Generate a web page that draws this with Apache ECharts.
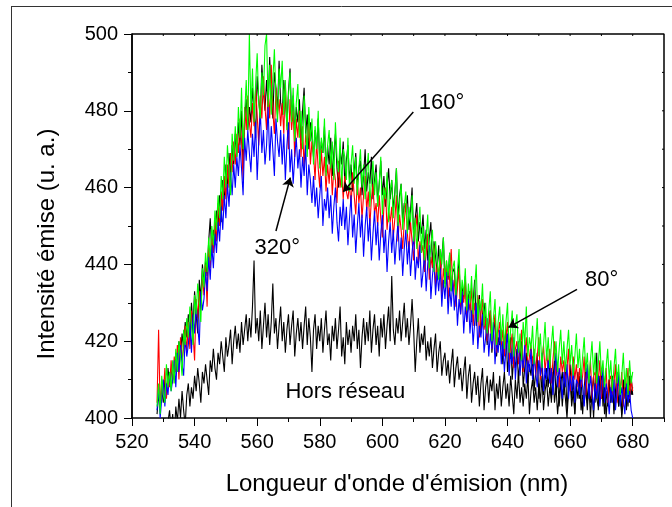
<!DOCTYPE html>
<html>
<head>
<meta charset="utf-8">
<script src="https://cdn.jsdelivr.net/npm/echarts@6/dist/echarts.min.js"></script>
<style>
  html, body { margin: 0; padding: 0; background: #fff; }
  #main { width: 672px; height: 507px; }
</style>
</head>
<body>
<div id="main"></div>
<script type="text/javascript">
    // longueurs d'onde (nm) : pas de 0.5 nm
    var stepNm = 0.5;
    var startColored = 528;   // courbes 80°, 160°, 320°, noire
    var startHors = 530;      // hors réseau

    // intensité (u. a.), 528 -> 680 nm, une ligne = 5 nm
    var green80 = [
        403, 409, 401, 411, 406, 404, 414, 408, 412, 407,
        415, 409, 418, 412, 420, 416, 411, 423, 419, 426,
        421, 429, 424, 419, 432, 427, 435, 430, 425, 439,
        434, 443, 438, 447, 441, 450, 445, 454, 449, 458,
        452, 463, 457, 468, 460, 471, 464, 458, 474, 467,
        476, 468, 481, 473, 486, 470, 479, 488, 475, 500,
        480, 491, 477, 487, 495, 482, 478, 490, 484, 497,
        500, 481, 492, 479, 488, 496, 483, 477, 491, 486,
        493, 479, 488, 475, 484, 490, 477, 486, 472, 482,
        487, 473, 480, 470, 484, 476, 468, 481, 472, 478,
        466, 476, 470, 480, 465, 473, 469, 478, 463, 471,
        475, 465, 472, 462, 477, 468, 464, 473, 460, 470,
        468, 462, 473, 459, 466, 471, 461, 468, 458, 465,
        470, 460, 466, 457, 464, 469, 455, 462, 467, 458,
        464, 455, 461, 468, 453, 460, 457, 464, 451, 459,
        462, 452, 458, 465, 450, 456, 461, 449, 455, 459,
        448, 455, 451, 458, 446, 452, 444, 450, 455, 443,
        450, 441, 447, 453, 439, 445, 449, 438, 446, 441,
        436, 444, 440, 447, 434, 441, 437, 443, 433, 439,
        441, 432, 438, 444, 430, 436, 432, 439, 428, 435,
        430, 437, 427, 434, 440, 425, 431, 428, 435, 424,
        430, 422, 428, 433, 420, 426, 431, 419, 425, 429,
        420, 427, 418, 425, 430, 417, 423, 428, 416, 424,
        427, 417, 422, 415, 425, 419, 429, 416, 421, 418,
        424, 414, 420, 426, 416, 422, 413, 419, 425, 415,
        421, 413, 419, 424, 415, 420, 412, 418, 423, 414,
        420, 412, 418, 423, 414, 419, 411, 416, 422, 413,
        418, 410, 416, 421, 412, 417, 409, 415, 420, 411,
        417, 409, 414, 420, 411, 415, 408, 413, 418, 410,
        415, 407, 413, 418, 409, 414, 406, 411, 417, 408,
        413, 406, 415, 409, 412
    ];
    var red160 = [
        404, 423, 402, 410, 406, 413, 405, 411, 408, 415,
        409, 416, 412, 419, 410, 421, 415, 418, 424, 417,
        425, 418, 428, 422, 415, 431, 426, 433, 428, 437,
        432, 440, 429, 445, 439, 448, 443, 451, 446, 456,
        450, 459, 454, 463, 457, 466, 460, 469, 464, 472,
        466, 474, 469, 478, 472, 462, 481, 475, 484, 477,
        473, 482, 476, 486, 479, 471, 484, 478, 489, 481,
        475, 485, 478, 492, 480, 474, 486, 479, 483, 476,
        482, 474, 487, 477, 470, 483, 475, 480, 468, 478,
        473, 480, 468, 476, 465, 474, 470, 478, 466, 472,
        469, 462, 472, 465, 460, 470, 463, 468, 459, 466,
        461, 468, 458, 465, 462, 456, 467, 460, 464, 457,
        463, 459, 457, 461, 455, 464, 458, 453, 462, 456,
        460, 452, 458, 463, 454, 459, 450, 457, 461, 453,
        456, 450, 458, 452, 447, 455, 460, 449, 454, 451,
        455, 447, 452, 458, 446, 453, 449, 444, 451, 456,
        448, 443, 451, 446, 441, 449, 453, 440, 446, 443,
        445, 438, 443, 448, 436, 442, 439, 445, 434, 440,
        437, 443, 432, 439, 435, 441, 430, 437, 444, 433,
        436, 429, 434, 439, 427, 433, 430, 436, 425, 431,
        428, 434, 424, 430, 426, 432, 421, 427, 431, 423,
        426, 420, 424, 428, 418, 423, 427, 417, 422, 425,
        419, 423, 416, 421, 425, 414, 419, 422, 413, 418,
        420, 414, 418, 423, 412, 417, 421, 413, 416, 419,
        414, 418, 411, 416, 421, 410, 415, 419, 412, 417,
        413, 418, 409, 415, 420, 411, 414, 408, 416, 412,
        415, 409, 413, 418, 407, 412, 416, 410, 414, 408,
        413, 408, 411, 416, 406, 412, 409, 415, 405, 411,
        412, 407, 410, 415, 405, 411, 408, 413, 404, 410,
        411, 406, 409, 414, 404, 410, 407, 412, 403, 409,
        408, 413, 405, 410, 407
    ];
    var blue320 = [
        402, 408, 400, 405, 410, 403, 409, 406, 412, 407,
        410, 415, 408, 417, 412, 419, 414, 411, 421, 416,
        419, 425, 417, 427, 422, 430, 424, 419, 433, 428,
        431, 438, 433, 442, 436, 445, 439, 448, 443, 451,
        446, 455, 449, 458, 452, 461, 455, 464, 458, 466,
        460, 468, 463, 471, 465, 458, 473, 467, 475, 469,
        464, 474, 468, 477, 462, 472, 480, 469, 475, 466,
        471, 481, 467, 476, 470, 463, 478, 472, 468, 475,
        466, 474, 462, 471, 477, 464, 470, 461, 468, 473,
        465, 470, 460, 468, 463, 471, 458, 466, 462, 456,
        463, 455, 460, 452, 458, 463, 450, 457, 454, 460,
        452, 458, 448, 455, 460, 451, 446, 455, 450, 457,
        449, 455, 445, 452, 458, 447, 453, 443, 450, 456,
        447, 453, 442, 450, 455, 446, 452, 441, 448, 454,
        445, 451, 441, 448, 453, 443, 449, 438, 446, 451,
        443, 449, 440, 446, 451, 441, 447, 437, 444, 449,
        440, 446, 437, 443, 448, 436, 442, 439, 445, 434,
        438, 443, 433, 440, 445, 431, 437, 441, 432, 438,
        433, 439, 429, 436, 431, 438, 427, 434, 429, 436,
        428, 434, 424, 431, 427, 433, 422, 429, 425, 431,
        422, 428, 419, 425, 430, 418, 424, 421, 427, 417,
        421, 426, 416, 422, 418, 425, 414, 420, 417, 423,
        414, 420, 412, 418, 422, 411, 417, 414, 421, 410,
        416, 420, 411, 417, 413, 419, 409, 415, 412, 418,
        410, 416, 412, 408, 415, 411, 417, 407, 413, 410,
        415, 409, 413, 406, 412, 417, 408, 413, 410, 405,
        412, 408, 414, 405, 411, 407, 413, 404, 410, 409,
        406, 412, 408, 403, 410, 414, 405, 411, 407, 402,
        409, 405, 411, 403, 408, 413, 404, 409, 406, 401,
        408, 404, 410, 402, 407, 412, 403, 408, 405, 401,
        409, 404, 407, 402, 400
    ];
    var black0 = [
        401, 406, 403, 408, 404, 410, 406, 413, 409, 411,
        414, 410, 417, 413, 420, 416, 422, 418, 425, 421,
        427, 420, 430, 424, 433, 427, 422, 436, 431, 440,
        435, 441, 437, 446, 452, 443, 449, 445, 454, 450,
        458, 451, 462, 456, 466, 459, 469, 463, 471, 466,
        474, 468, 477, 471, 480, 465, 478, 483, 475, 481,
        477, 486, 480, 473, 489, 483, 478, 492, 485, 480,
        488, 481, 494, 484, 478, 490, 486, 480, 493, 482,
        479, 488, 483, 476, 485, 491, 478, 484, 474, 481,
        477, 483, 472, 480, 486, 474, 479, 470, 477, 473,
        468, 475, 470, 478, 466, 472, 469, 476, 464, 471,
        466, 473, 463, 469, 474, 465, 460, 470, 466, 472,
        461, 467, 471, 462, 466, 459, 464, 469, 460, 465,
        467, 458, 463, 470, 459, 464, 461, 468, 457, 462,
        466, 456, 461, 467, 458, 463, 455, 460, 465, 457,
        462, 454, 459, 465, 452, 458, 461, 451, 456, 454,
        458, 449, 454, 460, 447, 452, 456, 446, 451, 448,
        453, 444, 449, 441, 447, 451, 440, 446, 442, 438,
        445, 437, 442, 447, 435, 440, 436, 443, 433, 438,
        439, 431, 436, 441, 429, 434, 431, 437, 426, 432,
        433, 425, 430, 436, 424, 428, 432, 422, 427, 430,
        425, 419, 424, 428, 417, 422, 426, 416, 421, 419,
        422, 414, 419, 423, 412, 417, 421, 410, 416, 413,
        418, 410, 415, 420, 408, 413, 417, 409, 414, 411,
        416, 407, 412, 417, 405, 411, 414, 406, 410, 413,
        408, 414, 404, 410, 415, 406, 411, 403, 409, 412,
        406, 413, 402, 409, 414, 405, 410, 401, 408, 412,
        405, 411, 401, 408, 413, 404, 409, 400, 407, 411,
        404, 417, 402, 408, 412, 403, 409, 400, 406, 410,
        404, 411, 401, 407, 412, 403, 408, 400, 405, 410,
        402, 409, 404, 411, 406
    ];
    // hors réseau, 530 -> 680 nm
    var horsReseau = [
        396, 400, 394, 399, 402, 397, 401, 395, 403, 399,
        405, 400, 407, 402, 398, 406, 409, 403, 408, 405,
        411, 407, 413, 409, 404, 412, 409, 414, 410, 406,
        415, 412, 418, 413, 410, 417, 414, 420, 416, 412,
        421, 416, 419, 423, 414, 420, 424, 418, 422, 417,
        425, 419, 423, 427, 420, 426, 421, 429, 441, 422,
        426, 420, 428, 418, 424, 430, 421, 427, 419, 425,
        435, 422, 426, 418, 424, 429, 420, 425, 417, 423,
        427, 419, 424, 428, 416, 422, 426, 420, 425, 418,
        424, 429, 419, 426, 421, 412, 423, 427, 418, 424,
        420, 426, 417, 423, 428, 419, 422, 415, 424, 420,
        426, 418, 423, 429, 416, 421, 414, 425, 419, 423,
        417, 424, 420, 427, 418, 423, 413, 421, 426, 419,
        425, 420, 428, 417, 423, 427, 419, 424, 416, 426,
        421, 427, 418, 424, 429, 420, 437, 423, 419, 426,
        422, 428, 420, 425, 430, 421, 426, 419, 424, 431,
        423, 412, 420, 426, 417, 422, 419, 424, 415, 420,
        416, 421, 413, 418, 422, 412, 417, 420, 411, 415,
        417, 411, 415, 409, 414, 418, 408, 413, 416, 410,
        413, 407, 412, 416, 405, 411, 414, 404, 409, 412,
        406, 411, 403, 409, 413, 402, 408, 411, 404, 410,
        407, 412, 402, 409, 405, 411, 403, 408, 412, 405,
        409, 403, 411, 406, 401, 410, 405, 412, 404, 408,
        403, 409, 405, 411, 401, 407, 410, 404, 408, 402,
        409, 404, 411, 402, 407, 410, 403, 408, 405, 412,
        404, 408, 401, 406, 410, 403, 409, 405, 400, 407,
        410, 403, 407, 401, 409, 405, 411, 402, 406, 404,
        408, 402, 410, 404, 407, 400, 409, 405, 403, 411,
        405, 409, 401, 407, 403, 410, 404, 408, 402, 406,
        409, 403, 407, 401, 410, 405, 408, 403, 411, 406,
        408
    ];

    var xMajorTicks = [520, 540, 560, 580, 600, 620, 640, 660, 680];
    // cadre : coins du repère
    var frameX = [520, 520, 690, 690];
    var frameY = [400, 500, 500, 400];

    // annotations [x, y, texte]
    var labels = [
        [618.9, 482.0, '160°'],
        [566.4, 444.3, '320°'],
        [670.1, 435.9, '80°'],
        [588.2, 406.8, 'Hors réseau']
    ];
    // flèches [x0, y0, x1, y1]
    var arrows = [
        [609.9, 479.7, 587.5, 458.9],
        [566.0, 448.7, 570.6, 462.6],
        [662.2, 433.5, 640.3, 423.6]
    ];

    function pairs(start, vals) {
        return vals.map(function (v, i) { return [start + i * stepNm, v]; });
    }

    var font = 'Liberation Sans, Arial, sans-serif';
    var myChart = echarts.init(document.getElementById('main'));

    function lineSerie(name, start, vals, color) {
        return {
            name: name,
            type: 'line',
            data: pairs(start, vals),
            showSymbol: false,
            symbol: 'none',
            clip: true,
            lineStyle: { color: color, width: 1.1 },
            silent: true
        };
    }

    myChart.setOption({
        animation: false,
        backgroundColor: '#fff',
        grid: { left: 132, right: 8, top: 34, bottom: 89 },
        xAxis: [
            {
                type: 'value', min: 520, max: 690, interval: 10, position: 'bottom',
                axisLine: { onZero: false, lineStyle: { color: '#000', width: 1.5 } },
                axisTick: { length: 4, lineStyle: { color: '#000', width: 1 } },
                axisLabel: {
                    margin: 14, color: '#000', fontSize: 20, fontFamily: font,
                    formatter: function (v) { return (v % 20 === 0 && v <= 680) ? v : ''; }
                },
                splitLine: { show: false }
            },
            {
                type: 'value', min: 520, max: 690, interval: 20, position: 'bottom',
                axisLine: { show: false, onZero: false },
                axisTick: { length: 8, customValues: xMajorTicks, lineStyle: { color: '#000', width: 1 } },
                axisLabel: { show: false },
                splitLine: { show: false }
            }
        ],
        yAxis: [
            {
                type: 'value', min: 400, max: 500, interval: 10, position: 'left',
                axisLine: { show: true, onZero: false, lineStyle: { color: '#000', width: 1.5 } },
                axisTick: { show: true, length: 4, lineStyle: { color: '#000' } },
                axisLabel: {
                    margin: 14, color: '#000', fontSize: 20, fontFamily: font,
                    formatter: function (v) { return v % 20 === 0 ? v : ''; }
                },
                splitLine: { show: false }
            },
            {
                type: 'value', min: 400, max: 500, interval: 20, position: 'left',
                axisLine: { show: false, onZero: false },
                axisTick: { show: true, length: 8, lineStyle: { color: '#000' } },
                axisLabel: { show: false },
                splitLine: { show: false }
            }
        ],
        series: [
            lineSerie('Hors réseau', startHors, horsReseau, '#000000'),
            lineSerie('0°', startColored, black0, '#000000'),
            lineSerie('160°', startColored, red160, '#ff0000'),
            lineSerie('320°', startColored, blue320, '#0000ff'),
            lineSerie('80°', startColored, green80, '#00ff00'),
            {
                name: 'cadre',
                type: 'line',
                data: frameX.map(function (x, i) { return [x, frameY[i]]; }),
                showSymbol: false,
                symbol: 'none',
                clip: false,
                silent: true,
                z: 20,
                lineStyle: { color: '#000', width: 1.5 }
            },
            {
                type: 'line',
                data: [],
                silent: true,
                markLine: {
                    silent: true,
                    animation: false,
                    symbol: ['none', 'arrow'],
                    symbolSize: 9,
                    label: { show: false },
                    lineStyle: { color: '#000', width: 1.5, type: 'solid' },
                    data: arrows.map(function (a) {
                        return [{ coord: [a[0], a[1]] }, { coord: [a[2], a[3]] }];
                    })
                }
            }
        ]
    });

    // titres, annotations, petites graduations haut et droite
    var graphics = [
        { type: 'line', shape: { x1: 11.5, y1: 6, x2: 11.5, y2: 507 }, style: { stroke: '#333', lineWidth: 1 } },
        { type: 'line', shape: { x1: 11, y1: 6.5, x2: 672, y2: 6.5 }, style: { stroke: '#333', lineWidth: 1 } },
        {
            type: 'text', x: 47, y: 244, rotation: Math.PI / 2,
            style: {
                text: 'Intensité émise (u. a.)', fill: '#000', fontSize: 24, fontFamily: font,
                textAlign: 'center', textVerticalAlign: 'middle'
            }
        },
        {
            type: 'text', x: 397, y: 484,
            style: {
                text: "Longueur d'onde d'émision (nm)", fill: '#000', fontSize: 24, fontFamily: font,
                textAlign: 'center', textVerticalAlign: 'middle'
            }
        }
    ];
    for (var t = 530; t <= 680; t += 10) {
        var pt = myChart.convertToPixel({ xAxisIndex: 0, yAxisIndex: 0 }, [t, 500]);
        graphics.push({ type: 'line', z: 100, shape: { x1: pt[0], y1: pt[1], x2: pt[0], y2: pt[1] + 2 }, style: { stroke: '#000', lineWidth: 1 } });
    }
    for (var u = 410; u <= 490; u += 10) {
        var pu = myChart.convertToPixel({ xAxisIndex: 0, yAxisIndex: 0 }, [690, u]);
        graphics.push({ type: 'line', z: 100, shape: { x1: pu[0] - 2, y1: pu[1], x2: pu[0], y2: pu[1] }, style: { stroke: '#000', lineWidth: 1 } });
    }
    labels.forEach(function (l) {
        var p = myChart.convertToPixel({ xAxisIndex: 0, yAxisIndex: 0 }, [l[0], l[1]]);
        graphics.push({
            type: 'text', x: p[0], y: p[1], z: 100,
            style: {
                text: l[2], fill: '#000', fontSize: 22, fontFamily: font,
                textAlign: 'center', textVerticalAlign: 'middle'
            }
        });
    });
    myChart.setOption({ graphic: graphics });
</script>
</body>
</html>
